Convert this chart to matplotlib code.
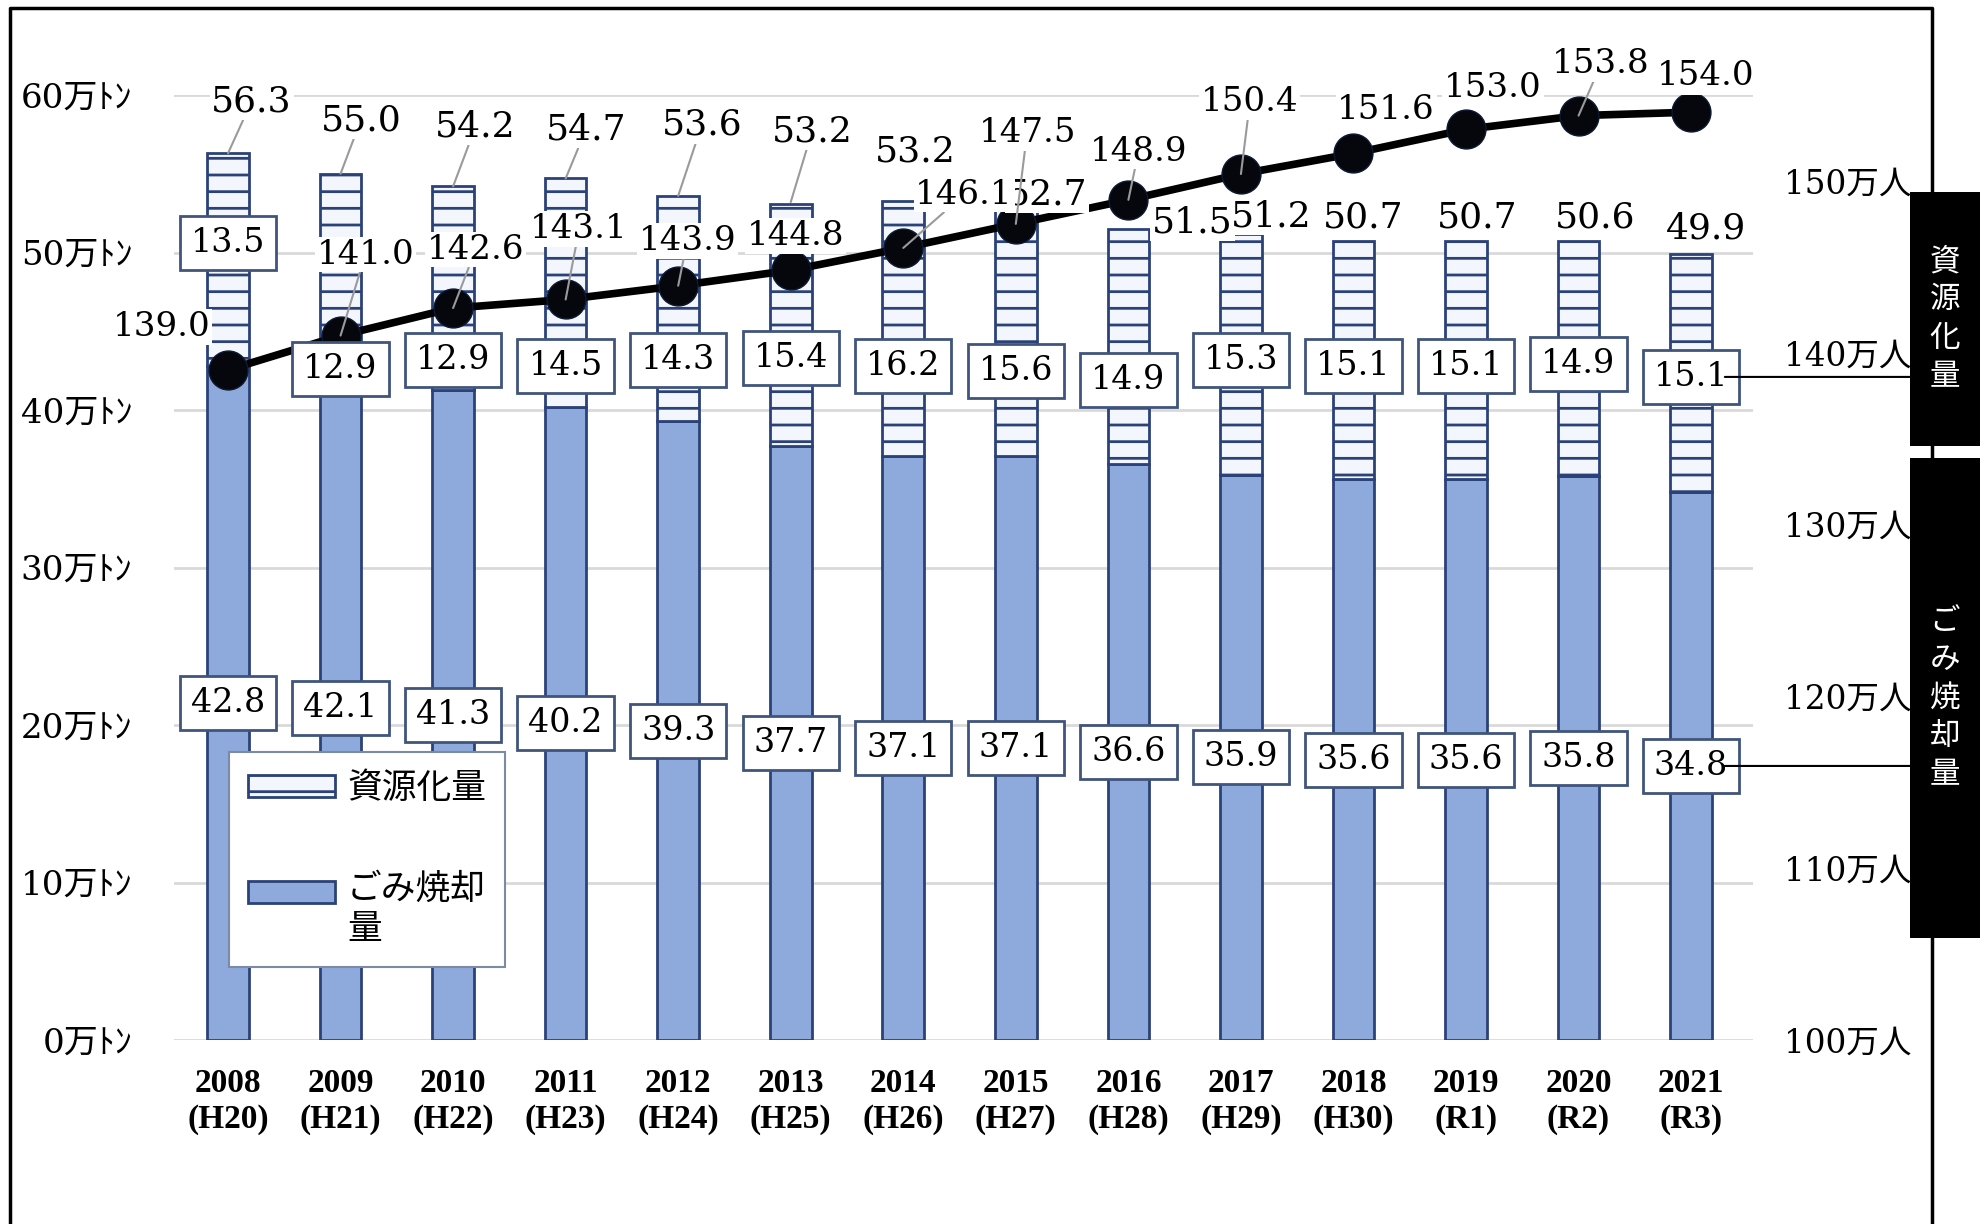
import numpy as np
import matplotlib
matplotlib.use('Agg')
import matplotlib.pyplot as plt
from matplotlib.patches import Rectangle
from matplotlib.lines import Line2D

plt.rcParams['font.family'] = ['DejaVu Serif', 'Noto Sans CJK JP']
plt.rcParams['hatch.linewidth'] = 2.0

# data (万トン / 万人)
years = ['2008\n(H20)', '2009\n(H21)', '2010\n(H22)', '2011\n(H23)', '2012\n(H24)',
         '2013\n(H25)', '2014\n(H26)', '2015\n(H27)', '2016\n(H28)', '2017\n(H29)',
         '2018\n(H30)', '2019\n(R1)', '2020\n(R2)', '2021\n(R3)']
incin = [42.8, 42.1, 41.3, 40.2, 39.3, 37.7, 37.1, 37.1, 36.6, 35.9, 35.6, 35.6, 35.8, 34.8]
resource = [13.5, 12.9, 12.9, 14.5, 14.3, 15.4, 16.2, 15.6, 14.9, 15.3, 15.1, 15.1, 14.9, 15.1]
total = [56.3, 55.0, 54.2, 54.7, 53.6, 53.2, 53.2, 52.7, 51.5, 51.2, 50.7, 50.7, 50.6, 49.9]
pop = [139.0, 141.0, 142.6, 143.1, 143.9, 144.8, 146.1, 147.5, 148.9, 150.4, 151.6, 153.0, 153.8, 154.0]

# label layout (moved by hand in the original)
total_lbl_dx = [0.21, 0.18, 0.20, 0.18, 0.21, 0.19, 0.11, 0.28, 0.57, 0.27, 0.09, 0.10, 0.15, 0.13]
total_lbl_y = [59.6, 58.4, 58.0, 57.8, 58.1, 57.7, 56.4, 53.7, 51.9, 52.3, 52.2, 52.2, 52.2, 51.5]
total_leader = [1, 1, 1, 1, 1, 1, 0, 0, 0, 0, 0, 0, 0, 0]
pop_lbl_dx = [-0.59, 0.22, 0.20, 0.12, 0.08, 0.04, 0.54, 0.10, 0.09, 0.08, 0.29, 0.24, 0.20, 0.13]
pop_lbl_y = [141.5, 145.7, 146.0, 147.2, 146.5, 146.8, 149.2, 152.8, 151.7, 154.6, 154.1, 155.4, 156.8, 156.1]
pop_leader = [0, 1, 1, 1, 1, 0, 1, 1, 1, 1, 0, 0, 1, 0]
res_lbl_y = [50.6, 42.6, 43.2, 42.8, 43.2, 43.3, 42.8, 42.5, 41.9, 43.2, 42.8, 42.8, 42.9, 42.1]

W, H = 1988, 1224
BLUE = '#8EA9DB'
NAVY = '#2B4279'
CJK = ['Noto Sans CJK JP']

fig = plt.figure(figsize=(W / 100, H / 100), dpi=100)
ax = fig.add_axes([174 / W, 1 - 1040 / H, (1753 - 174) / W, (1040 - 95) / H])
ax2 = ax.twinx()

x = np.arange(len(years))
b_inc = ax.bar(x, incin, width=0.37, color=BLUE, edgecolor=NAVY, linewidth=2, zorder=2)
b_res = ax.bar(x, resource, bottom=incin, width=0.37, color='#F3F7FD', edgecolor=NAVY,
               hatch='-', linewidth=2, zorder=2)

ax.set_xlim(-0.48, 13.55)
ax.set_ylim(0, 60)
ax.set_yticks(range(0, 70, 10), [f'{v}万ﾄﾝ' for v in range(0, 70, 10)])
ax.set_xticks(x, years)
ax.yaxis.grid(True, color='#d9d9d9', lw=2)
ax.set_axisbelow(True)
ax.tick_params(axis='y', length=0, pad=30, labelsize=24.5)
ax.tick_params(axis='x', length=0, pad=20)
for t in ax.get_xticklabels():
    t.set_fontfamily('Liberation Serif')
    t.set_fontweight('bold')
    t.set_fontsize(24)
    t.set_linespacing(1.2)

ax2.plot(x, pop, color='black', lw=5.5, marker='o', ms=28, mfc='#05070d', mec='#0d1a33',
         zorder=2)
ax2.set_ylim(100, 155)
ax2.set_yticks(range(100, 160, 10), [f'{v}万人' for v in range(100, 160, 10)])
ax2.tick_params(axis='y', length=0, pad=22, labelsize=23.5)

for a in (ax, ax2):
    for s in a.spines.values():
        s.set_visible(False)

lead = dict(arrowstyle='-', color='#9a9a9a', lw=1.5, shrinkA=0, shrinkB=0)
white = dict(boxstyle='square,pad=0.05', fc='white', ec='none')
framed = dict(boxstyle='square,pad=0.33', fc='white', ec='#40547c', lw=2)

# totals
for i in x:
    ax2.annotate(f'{total[i]:.1f}', xy=(i, total[i]), xycoords=ax.transData,
                 xytext=(i + total_lbl_dx[i], total_lbl_y[i]), textcoords=ax.transData,
                 ha='center', va='center', fontsize=26, bbox=white,
                 arrowprops=lead if total_leader[i] else None, zorder=4)

# population
for i in x:
    ax2.annotate(f'{pop[i]:.1f}', xy=(i, pop[i]),
                 xytext=(i + pop_lbl_dx[i], pop_lbl_y[i]),
                 ha='center', va='center', fontsize=24.5, bbox=white,
                 arrowprops=lead if pop_leader[i] else None, zorder=5)

# segment values
for i in x:
    ax2.text(i, res_lbl_y[i], f'{resource[i]:.1f}', transform=ax.transData,
             ha='center', va='center', fontsize=24, bbox=framed, zorder=6)
    ax2.text(i, incin[i] / 2, f'{incin[i]:.1f}', transform=ax.transData,
             ha='center', va='center', fontsize=24, bbox=framed, zorder=6)

leg = ax2.legend([b_res, b_inc], ['資源化量', 'ごみ焼却\n量'], loc='upper left',
                 bbox_to_anchor=(229 / W, 1 - 752 / H), bbox_transform=fig.transFigure,
                 prop=dict(family=CJK, size=25), frameon=True, fancybox=False,
                 edgecolor='#7d8aa3', framealpha=1, borderpad=0.55, labelspacing=1.9,
                 handlelength=2.5, handleheight=0.6, handletextpad=0.35, borderaxespad=0)
leg.get_frame().set_linewidth(1.5)
leg.set_zorder(10)
# the original keeps the second swatch level with the first text line
h2 = leg.legend_handles[1]
h2.set_y(h2.get_y() + 14)

# outer frame
fig.add_artist(Line2D([10 / W, 10 / W, 1932 / W, 1932 / W], [0, 1 - 8 / H, 1 - 8 / H, 0],
                      transform=fig.transFigure, color='black', lw=2.5))

# side tags with connectors
side = [('資\n源\n化\n量', 192, 446, res_lbl_y[-1]),
        ('ご\nみ\n焼\n却\n量', 458, 938, incin[-1] / 2)]
for txt, top, bot, ly in side:
    fig.add_artist(Rectangle((1910 / W, 1 - bot / H), 70 / W, (bot - top) / H,
                             transform=fig.transFigure, fc='black', ec='none', zorder=5))
    fig.text(1945 / W, 1 - (top + bot) / 2 / H, txt, color='white', fontsize=22,
             family=CJK, ha='center', va='center', linespacing=1.3, zorder=6)
    ax2.annotate('', xy=(1910 / W, ly), xycoords=(fig.transFigure, ax.transData),
                 xytext=(13.3, ly), textcoords=ax.transData,
                 arrowprops=dict(arrowstyle='-', color='black', lw=1.5, shrinkA=0, shrinkB=0),
                 zorder=7, annotation_clip=False)

fig.savefig('out.png', dpi=100)
